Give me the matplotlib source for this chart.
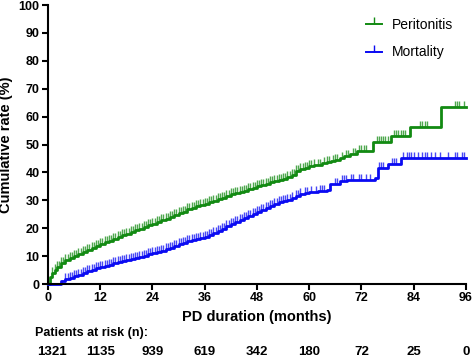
import matplotlib

matplotlib.use("Agg")
import matplotlib.pyplot as plt
import numpy as np
from matplotlib.lines import Line2D

plt.rcParams["font.family"] = ["Liberation Sans", "DejaVu Sans"]

# cumulative incidence step curves (months, %)
perit_t = [0, 0.5, 1, 1.5, 2, 3, 4, 5, 6, 7, 8, 9, 10, 11, 12, 13, 14, 15, 16,
           17, 18, 19, 20, 21, 22, 23, 24, 25, 26, 27, 28, 29, 30, 31, 32, 33,
           34, 35, 36, 37, 38, 39, 40, 41, 42, 43, 44, 45, 46, 47, 48, 49, 50,
           51, 52, 53, 54, 55, 56, 57, 58, 59, 60, 61, 62, 63, 64, 65, 66, 67,
           68, 69.4, 70.9, 74.7, 78.9, 83.1, 90.2, 96]
perit_y = [0, 2.5, 4, 5.2, 6.2, 7.5, 8.5, 9.4, 10.2, 10.9, 11.6, 12.3, 13, 13.7,
           14.4, 15, 15.6, 16.2, 16.8, 17.4, 18, 18.6, 19.2, 19.8, 20.4, 21,
           21.6, 22.2, 22.8, 23.4, 24, 24.6, 25.3, 26, 26.8, 27.4, 27.9, 28.3,
           28.8, 29.3, 29.8, 30.4, 31, 31.6, 32.2, 32.7, 33.1, 33.5, 34, 34.5,
           35, 35.5, 36, 36.5, 37, 37.3, 37.8, 38.4, 39.2, 40.5, 41.2, 41.7,
           42.2, 42.6, 42.8, 43.3, 43.8, 44.2, 44.6, 45.2, 45.8, 46.5, 47.8,
           50.8, 53, 56.2, 63.3, 63.3]

mort_t = [0, 2.9, 3, 4, 5, 6, 7, 8, 9, 10, 11, 12, 13, 14, 15, 16, 17, 18, 19,
          20, 21, 22, 23, 24, 25, 26, 27, 28, 29, 30, 31, 32, 33, 34, 35, 36,
          37, 38, 39, 40, 41, 42, 43, 44, 45, 46, 47, 48, 49, 50, 51, 52, 53,
          54, 55, 56, 57, 58, 59, 60, 62, 64, 64.8, 67, 68.6, 75.1, 75.8, 78.1,
          81.2, 96]
mort_y = [0, 0, 1.2, 1.8, 2.3, 2.8, 3.3, 3.9, 4.5, 5.1, 5.6, 6.2, 6.6, 7, 7.4,
          7.8, 8.2, 8.6, 9, 9.4, 9.8, 10.2, 10.6, 11, 11.5, 12, 12.5, 13, 13.6,
          14.2, 14.8, 15.4, 15.8, 16.1, 16.4, 16.8, 17.4, 18.2, 19, 19.8, 20.8,
          21.6, 22.2, 22.8, 23.5, 24.3, 25.1, 25.9, 26.7, 27.4, 28, 28.6, 29.3,
          29.7, 30.2, 30.8, 31.6, 32.2, 32.6, 33, 33.4, 33.8, 36, 36.8, 37.3,
          37.9, 41.5, 43.2, 45, 45]

# censored observations (months)
perit_cens = [1, 1.5, 2, 2.5, 3, 3.5, 4, 4.5, 5, 5.5, 6, 6.5, 7, 7.5, 8, 8.5,
              9, 9.5, 10, 10.5, 11, 11.5, 12, 12.5, 13, 13.5, 14, 14.5, 15,
              15.5, 16, 16.5, 17, 17.5, 18, 18.5, 19, 19.5, 20, 20.5, 21, 21.5,
              22, 22.5, 23, 23.5, 24, 24.5, 25, 25.5, 26, 26.5, 27, 27.5, 28,
              28.5, 29, 29.5, 30, 30.5, 31, 31.5, 32, 32.5, 33, 33.5, 34, 34.5,
              35, 35.5, 36, 36.5, 37, 37.5, 38, 38.5, 39, 39.5, 40, 40.5, 41,
              41.5, 42, 42.5, 43, 43.5, 44, 44.5, 45, 45.5, 46, 46.5, 47, 47.5,
              48, 48.5, 49, 49.5, 50, 50.5, 51, 51.5, 52, 52.5, 53, 53.5, 54,
              54.5, 55, 55.5, 56, 56.5, 57, 57.5, 58, 58.5, 59, 59.5, 60, 60.5,
              61, 62, 62.5, 63.5, 64, 64.5, 65.5, 66, 66.5, 67.5, 68.5, 69, 70,
              70.5, 71.5, 72, 72.5, 73, 75.5, 76, 76.5, 77, 77.5, 78, 79.5, 80,
              80.5, 81, 81.5, 82, 85.5, 86, 86.5, 87, 93.5, 94, 94.5, 95.5]
mort_cens = [4, 4.5, 5, 5.5, 6, 6.5, 7, 7.5, 8, 8.5, 9, 9.5, 10, 10.5, 11,
             11.5, 12, 12.5, 13, 13.5, 14, 14.5, 15, 15.5, 16, 16.5, 17, 17.5,
             18, 18.5, 19, 19.5, 20, 20.5, 21, 21.5, 22, 22.5, 23, 23.5, 24,
             24.5, 25, 25.5, 26, 26.5, 27, 27.5, 28, 28.5, 29, 29.5, 30, 30.5,
             31, 31.5, 32, 32.5, 33, 33.5, 34, 34.5, 35, 35.5, 36, 36.5, 37,
             37.5, 38, 38.5, 39, 39.5, 40, 40.5, 41, 41.5, 42, 42.5, 43, 43.5,
             44, 44.5, 45, 45.5, 46, 46.5, 47, 47.5, 48, 48.5, 49, 49.5, 50,
             50.5, 51, 51.5, 52, 52.5, 53, 53.5, 54, 54.5, 55, 55.5, 56, 57,
             57.5, 58, 59, 59.5, 60.5, 61.5, 62.5, 63, 63.5, 66, 66.5, 67.5, 68,
             68.5, 69.5, 70, 71.5, 72, 73, 74, 76, 76.5, 77, 79, 79.5, 80, 81.5,
             82.5, 83, 83.5, 84, 85, 86, 86.5, 87, 88, 89, 90, 92, 93.5, 94, 95,
             95.5]

risk_months = [0, 12, 24, 36, 48, 60, 72, 84, 96]
risk_n = [1321, 1135, 939, 619, 342, 180, 72, 25, 0]

green = "#128a12"
blue = "#0a0af2"


def step_at(t, xs, ys):
    idx = np.searchsorted(xs, t, side="right") - 1
    return np.array(ys)[idx]


fig = plt.figure(figsize=(4.73, 3.6), dpi=100)
ax = fig.add_axes([0.1015, 0.211, 0.8835, 0.775])

for xs, ys, cens, col in [(perit_t, perit_y, perit_cens, green),
                          (mort_t, mort_y, mort_cens, blue)]:
    ax.plot(xs, ys, drawstyle="steps-post", color=col, lw=2.0, clip_on=False)
    ax.plot(cens, step_at(cens, xs, ys), ls="none", marker=2, ms=4.5,
            mew=1.0, color=col, alpha=0.75, clip_on=False)

ax.set_xlim(0, 96)
ax.set_ylim(0, 100)
ax.set_xticks(range(0, 97, 12))
ax.set_yticks(range(0, 101, 10))
for s in ["top", "right"]:
    ax.spines[s].set_visible(False)
for s in ["left", "bottom"]:
    ax.spines[s].set_linewidth(1.5)
ax.tick_params(width=1.5, length=4, labelsize=9, pad=2)
for lbl in ax.get_xticklabels() + ax.get_yticklabels():
    lbl.set_fontweight("bold")
ax.set_ylabel("Cumulative rate (%)", fontsize=10.5, fontweight="bold", labelpad=4)
ax.set_xlabel("PD duration (months)", fontsize=10.5, fontweight="bold", labelpad=4)

handles = [Line2D([], [], color=green, lw=1.4, marker=2, ms=5, mew=1.0),
           Line2D([], [], color=blue, lw=1.4, marker=2, ms=5, mew=1.0)]
ax.legend(handles, ["Peritonitis", "Mortality"], loc="upper right",
          bbox_to_anchor=(1.0, 1.0), frameon=False, fontsize=10,
          handlelength=1.2, labelspacing=1.0, handletextpad=0.7)

fig.text(35 / 473, 1 - 333 / 360, "Patients at risk (n):", fontsize=9,
         fontweight="bold", va="center", ha="left")
for m, n in zip(risk_months, risk_n):
    xpix = ax.transData.transform((m, 0))[0]
    if m == 0:
        xpix += 4
    fig.text(xpix / 473, 1 - 352 / 360, str(n), fontsize=9.5,
             fontweight="bold", ha="center", va="center")

fig.savefig("out.png", dpi=100)
